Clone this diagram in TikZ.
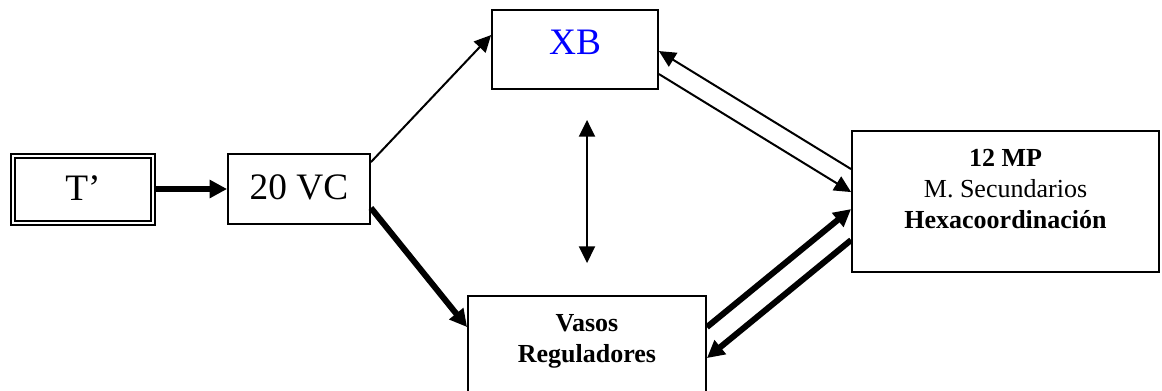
\documentclass[tikz,border=0pt]{standalone}
\usepackage{fontspec}
\setmainfont{Liberation Serif}
\usetikzlibrary{arrows.meta,calc}
\begin{document}
\begin{tikzpicture}[x=0.75pt,y=-0.75pt,
  box/.style={draw, line width=1.4pt, rectangle, inner sep=0pt},
  dbox/.style={draw, line width=1.4pt, double, double distance=2.2pt, rectangle, inner sep=0pt},
  big/.style={font=\fontsize{28}{33}\selectfont, inner sep=0pt},
  mid/.style={font=\fontsize{19.5}{23.6}\selectfont, align=center, inner sep=0pt},
  thinarrow/.style={line width=1.5pt, -{Triangle[length=12.5pt,width=12pt]}},
  thinboth/.style={line width=1.5pt, {Triangle[length=12.5pt,width=12pt]}-{Triangle[length=12.5pt,width=12pt]}},
  thickarrow/.style={line width=4.5pt, -{Triangle[length=13pt,width=13pt]}},
]
\useasboundingbox (0,0) rectangle (1162,390);
\clip (0,0) rectangle (1162,390);

% boxes
\node[dbox, minimum width=105pt, minimum height=50.25pt] (t) at (83,189.5) {};
\node[box, minimum width=106.5pt, minimum height=52.5pt] (vc) at (299,189) {};
\node[box, minimum width=124.5pt, minimum height=59.25pt] (xb) at (575,49.5) {};
\node[box, minimum width=230.25pt, minimum height=105.75pt] (mp) at (1005.5,201.5) {};
\node[box, minimum width=178.5pt, minimum height=81pt] (vasos) at (587,350) {};

% texts
\node[big] (ttext) at ($(t.center)+(0,-1)$) {T’};
\node[big] (vctext) at ($(vc.center)+(0,-2)$) {20 VC};
\node[big, text={rgb,255:red,0;green,0;blue,255}] (xbtext) at ($(xb.center)+(0,-7)$) {XB};
\node[mid] (mptext) at ($(mp.center)+(0,-12.5)$) {\textbf{12 MP}\\M. Secundarios\\\textbf{Hexacoordinación}};
\node[mid, font=\fontsize{19.5}{23.6}\selectfont\bfseries] (vasostext) at (587,341.5) {Vasos\\Reguladores};

% connectors
\draw[thickarrow] (t.east |- vc.west) -- (vc.west);
\draw[thinarrow] ($(vc.north east)+(0,9)$) -- ($(xb.north west)+(0,26)$);
\draw[thickarrow] ($(vc.south east)+(0,-17)$) -- ($(vasos.north west)+(0,32)$);
\draw[thinboth] ($(vasos.north |- xb.south)+(0,30)$) -- ($(vasos.north)+(0,-32)$);
\draw[thinarrow] ($(mp.north west)+(0,39)$) -- ($(xb.north east)+(0,42)$);
\draw[thinarrow] ($(xb.north east)+(0,65)$) -- ($(mp.north west)+(0,62)$);
\draw[thickarrow] ($(vasos.north east)+(0,32)$) -- ($(mp.north west)+(0,79)$);
\draw[thickarrow] ($(mp.north west)+(0,110)$) -- ($(vasos.north east)+(0,63)$);
\end{tikzpicture}
\end{document}
